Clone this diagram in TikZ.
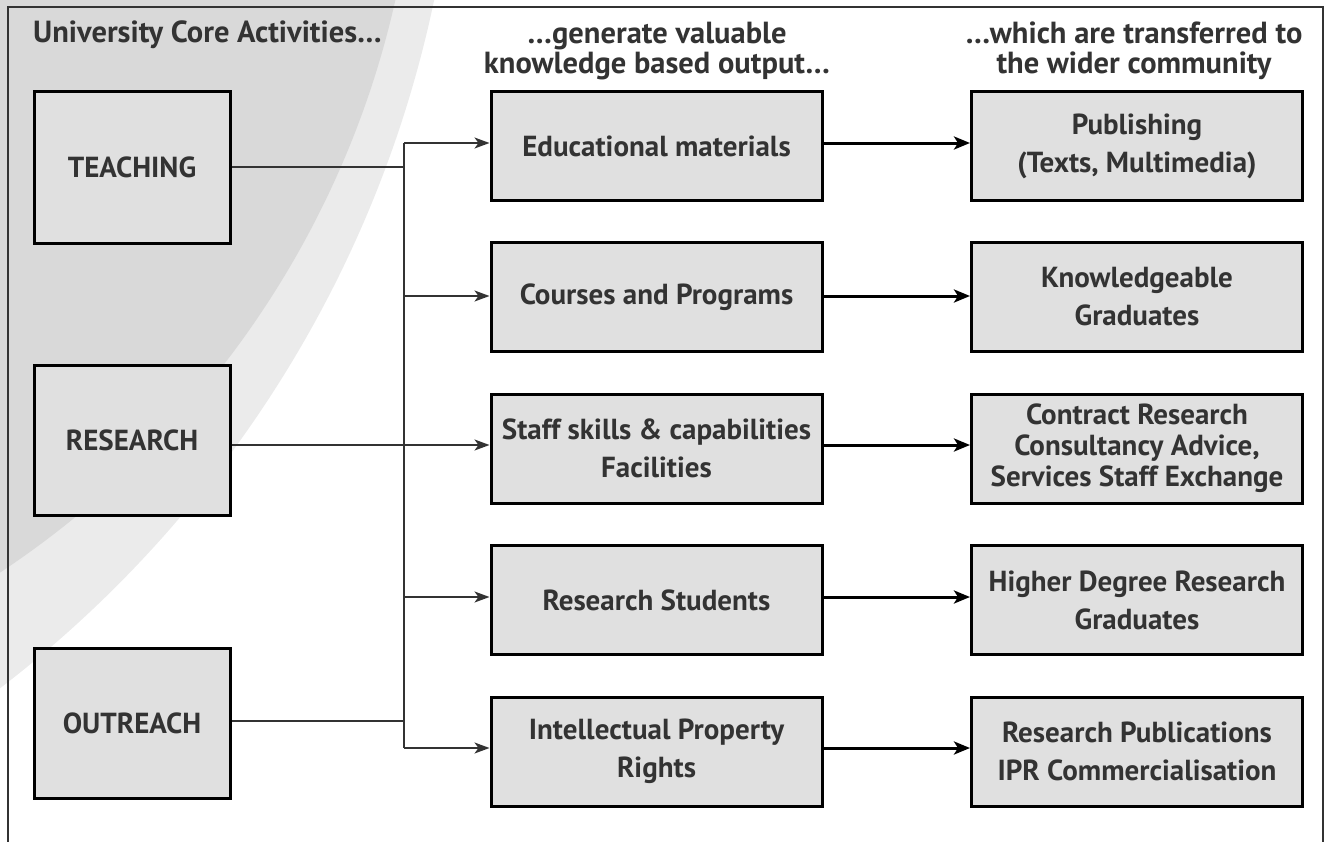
\documentclass[tikz,border=0pt]{standalone}
\usepackage{fontspec}
\setmainfont{PT Sans}
\usetikzlibrary{arrows.meta}
\definecolor{txt}{HTML}{333333}
\definecolor{boxfill}{HTML}{E0E0E0}
\definecolor{diskdark}{HTML}{D9D9D9}
\definecolor{disklight}{HTML}{EBEBEB}
\tikzset{
  lbox/.style={draw=black, line width=3pt, fill=boxfill, text=txt, inner sep=0pt,
    minimum width=196pt, minimum height=152pt, align=center,
    font=\fontsize{29}{38}\selectfont\bfseries},
  obox/.style={draw=black, line width=3pt, fill=boxfill, text=txt, inner sep=0pt,
    minimum width=331pt, minimum height=109pt, align=center,
    font=\fontsize{29}{38}\selectfont\bfseries},
  heading/.style={text=txt, inner sep=0pt, align=center,
    font=\fontsize{30.5}{30}\selectfont\bfseries},
  thinline/.style={draw=txt, line width=1.5pt},
  thinarrow/.style={draw=txt, line width=1.5pt, -{Stealth[length=15pt,width=11pt,inset=4pt]}},
  thickarrow/.style={draw=black, line width=3pt, -{Stealth[length=16pt,width=13pt,inset=4pt]}},
  frameline/.style={draw=txt, line width=1.5pt}
}
\begin{document}
\begin{tikzpicture}[x=1pt,y=-1pt]
\useasboundingbox (0,0) rectangle (1325,841);
\begin{scope}
  \clip (0,0) rectangle (1325,841);
  \fill[disklight] (-711,-241) circle[radius=1170pt];
  \fill[diskdark] (-514,-205) circle[radius=932pt];
  \draw[frameline] (8,7) rectangle (1323,900);
\end{scope}

% headings (base anchor = last line's baseline)
\node[heading, anchor=base west] (h1) at (33,42) {University Core Activities\ldots};
\node[heading, anchor=base] (h2) at (657,73) {\ldots generate valuable\\knowledge based output\ldots};
\node[heading, anchor=base] (h3) at (1134,73) {\ldots which are transferred to\\the wider community};

% left boxes
\node[lbox, minimum height=152pt] (L1) at (132,167.5) {TEACHING};
\node[lbox, minimum height=150pt] (L2) at (132,440.5) {RESEARCH};
\node[lbox, minimum height=150pt] (L3) at (132,723.5) {OUTREACH};

% middle boxes
\node[obox] (m1) at (656.5,146) {Educational materials};
\node[obox] (m2) at (656.5,297) {Courses and Programs};
\node[obox] (m3) at (656.5,448.5) {Staff skills \& capabilities\\Facilities};
\node[obox] (m4) at (656.5,600) {Research Students};
\node[obox] (m5) at (656.5,751.5) {Intellectual Property\\Rights};

% right boxes
\node[obox] (r1) at (1137,146) {Publishing\\(Texts, Multimedia)};
\node[obox] (r2) at (1137,297) {Knowledgeable\\Graduates};
\node[obox, font=\fontsize{29}{31}\selectfont\bfseries] (r3) at (1137,448.5) {Contract Research\\Consultancy Advice,\\Services Staff Exchange};
\node[obox] (r4) at (1137,600) {Higher Degree Research\\Graduates};
\node[obox] (r5) at (1137,751.5) {Research Publications\\IPR Commercialisation};

% bus coordinates
\coordinate (a1) at (404,143);
\coordinate (a2) at (404,296);
\coordinate (a3) at (404,445);
\coordinate (a4) at (404,597);
\coordinate (a5) at (404,748);
\coordinate (j1) at (404,167);
\coordinate (j3) at (404,721);

\draw[thinline] (a1) -- (a5);
\draw[thinline] (L1.east |- j1) -- (j1);
\draw[thinline] (L2.east |- a3) -- (a3);
\draw[thinline] (L3.east |- j3) -- (j3);

\foreach \i in {1,...,5}{
  \draw[thinarrow] (a\i) -- (a\i -| m\i.west);
  \draw[thickarrow] (m\i.east |- a\i) -- (r\i.west |- a\i);
}
\end{tikzpicture}
\end{document}
